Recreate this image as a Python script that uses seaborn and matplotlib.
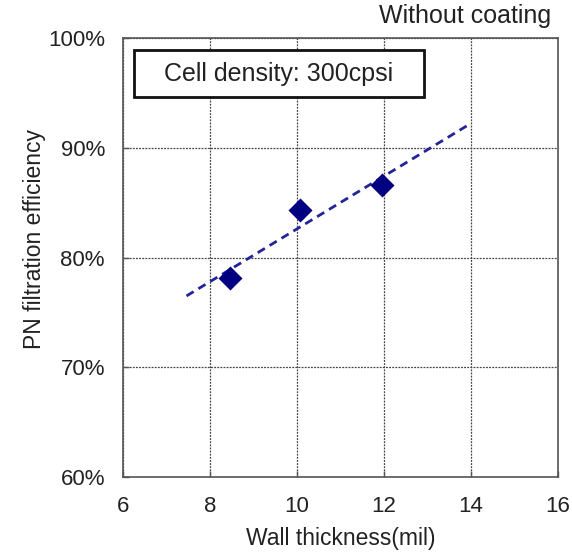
import numpy as np
import matplotlib
matplotlib.use("Agg")
import matplotlib.pyplot as plt
import seaborn as sns
from matplotlib.patches import Rectangle
from matplotlib.ticker import PercentFormatter

# Dados
espessura = [8.46, 10.08, 11.95]          # Wall thickness (mil)
eficiencia = [78.1, 84.3, 86.6]           # PN filtration efficiency (%)
faixa_tendencia = [7.46, 13.9]            # intervalo da linha de tendência
x_ticks = [6, 8, 10, 12, 14, 16]
y_ticks = [60, 70, 80, 90, 100]

sns.set_theme(style="ticks")
plt.rcParams['font.family'] = ['Liberation Sans', 'DejaVu Sans']

fig = plt.figure(figsize=(5.72, 5.55), dpi=100)
ax = fig.add_axes([0.215, 0.1405, 0.7605, 0.791])

# linha de tendência (regressão linear dos pontos)
coef = np.polyfit(espessura, eficiencia, 1)
fit_x = np.array(faixa_tendencia)
fit_y = np.polyval(coef, fit_x)
sns.lineplot(x=fit_x, y=fit_y, ax=ax, color='#23239a', linewidth=2,
             linestyle=(0, (3, 2)), zorder=3)

sns.scatterplot(x=espessura, y=eficiencia, ax=ax, marker='D', s=150,
                color='#000080', edgecolor='#000080', linewidth=0, zorder=4)

ax.set_xlim(6, 16)
ax.set_ylim(60, 100)
ax.set_xticks(x_ticks)
ax.set_yticks(y_ticks)
ax.yaxis.set_major_formatter(PercentFormatter(decimals=0))
ax.grid(True, color='#444444', linestyle=(0, (1.5, 1)), linewidth=0.9)
ax.set_axisbelow(True)
for s in ax.spines.values():
    s.set_color('#555555')
    s.set_linewidth(1.2)
ax.tick_params(direction='in', length=4, width=1, colors='#555555',
               labelcolor='#222222', labelsize=16)
ax.tick_params(axis='y', pad=13)
ax.tick_params(axis='x', pad=14)

ax.set_xlabel('Wall thickness(mil)', fontsize=16.5, color='#222222', labelpad=7)
ax.set_ylabel('PN filtration efficiency', fontsize=16.5, color='#222222')
ax.yaxis.set_label_coords(-0.178, 0.542)

# caixa do rótulo
ax.add_patch(Rectangle((0.025, 0.866), 0.667, 0.107, transform=ax.transAxes,
                       facecolor='white', edgecolor='#111111', linewidth=2,
                       zorder=5))
ax.text(0.3585, 0.919, 'Cell density: 300cpsi', transform=ax.transAxes,
        ha='center', va='center', fontsize=18, color='#222222', zorder=6)
ax.text(0.985, 1.022, 'Without coating', transform=ax.transAxes,
        ha='right', va='bottom', fontsize=18, color='#222222')

fig.savefig('out.png', dpi=100)
